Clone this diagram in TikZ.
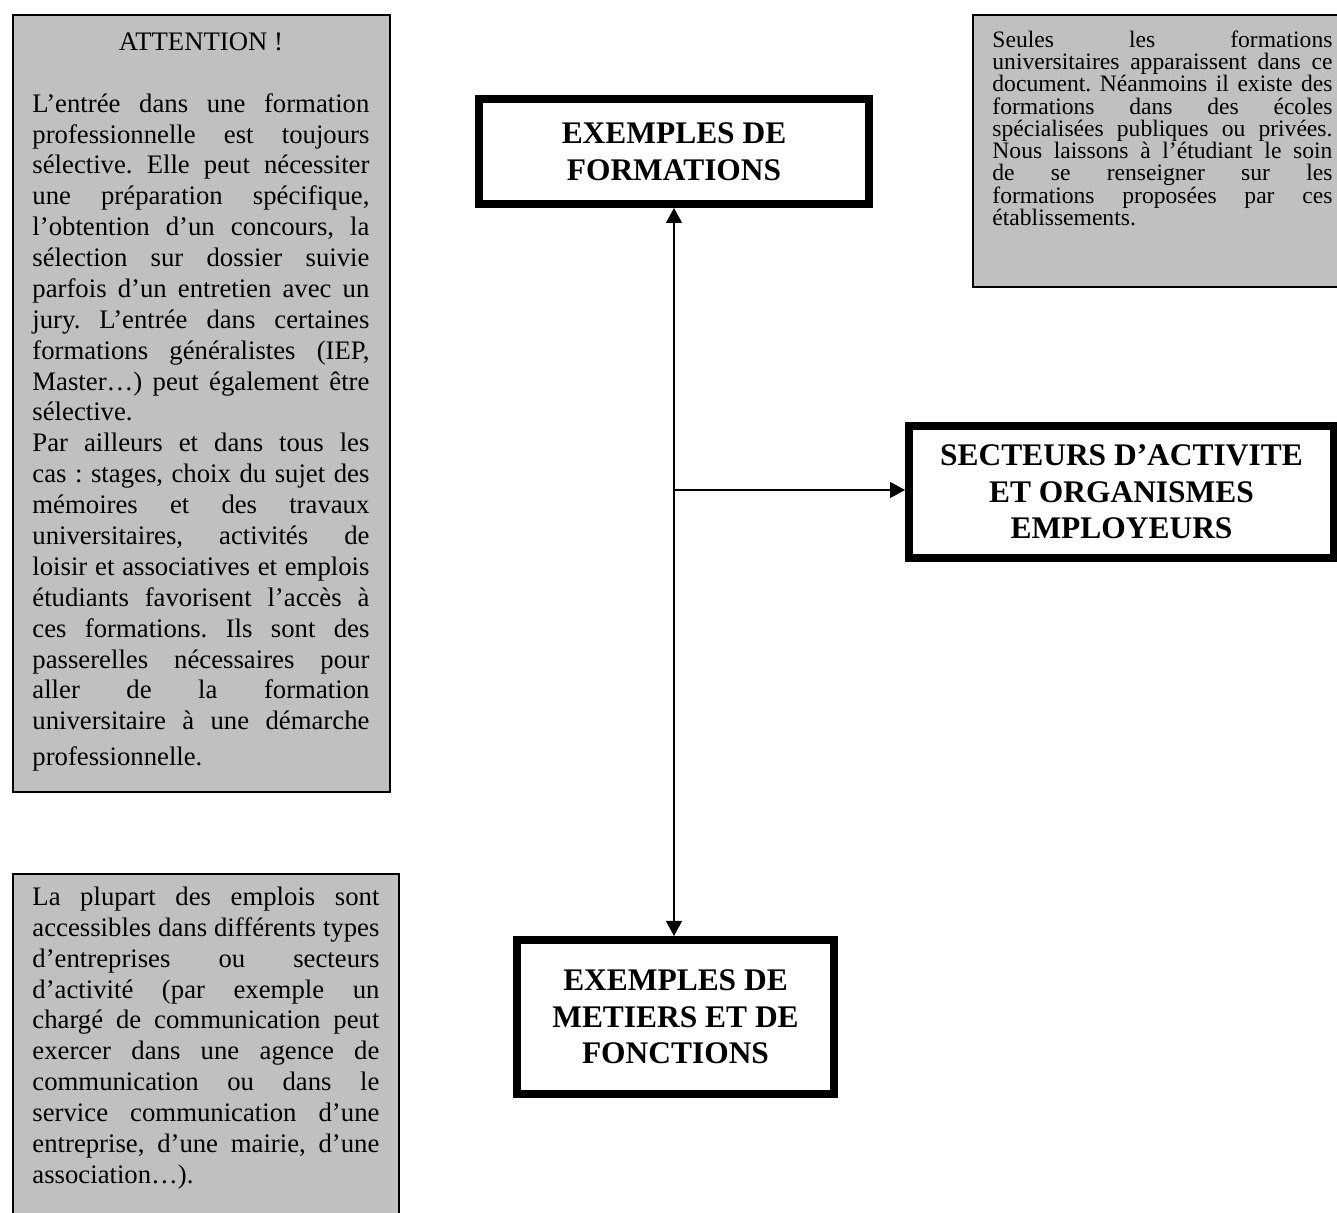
\documentclass[tikz,border=0pt]{standalone}
\usepackage{fontspec}
\setmainfont{Liberation Serif}
\usetikzlibrary{arrows.meta}
\definecolor{boxgray}{HTML}{C0C0C0}
\newcommand\jset{\parindent=0pt\tolerance=10000\pretolerance=-1\hyphenpenalty=10000\exhyphenpenalty=10000\emergencystretch=0pt\frenchspacing\spaceskip=0.25em plus 1em minus 0.12em\xspaceskip=\spaceskip}
\newcommand\tightset{\jset\lineskiplimit=-20pt}
\tikzset{
  graybox/.style={draw=black, fill=boxgray, line width=0.9pt, inner sep=0pt, anchor=north west},
  bodytext/.style={inner sep=0pt, anchor=north west, align=justify, font=\fontsize{11.9pt}{13.75pt}\selectfont},
  smalltext/.style={inner sep=0pt, anchor=north west, align=justify, font=\fontsize{10.5pt}{9.9pt}\selectfont},
  titlebox/.style={draw=black, fill=white, line width=3.5pt, inner sep=0pt, align=center,
    font=\fontsize{14pt}{16.3pt}\selectfont\bfseries},
  tipA/.tip={Triangle[length=6.7pt,width=7pt]},
  link/.style={line width=0.9pt, tipA-tipA},
  onelink/.style={line width=0.9pt, -tipA}
}
\begin{document}
\begin{tikzpicture}[x=0.44525pt, y=-0.44525pt]
\clip (0,0) rectangle (1337,1213);
\fill[white] (0,0) rectangle (1337,1213);

% gray boxes
\node[graybox, minimum width=167.9pt, minimum height=346.0pt] (attbox) at (12,14) {};
\node[graybox, minimum width=165.2pt, minimum height=121.1pt] (trbox) at (972,14) {};
\node[graybox, minimum width=171.9pt, minimum height=158.1pt] (blbox) at (12,873) {};

\node[bodytext, text width=150.05pt] (attT) at (32,27.5) {\jset
{\centering\rule{0pt}{10pt}ATTENTION !\par}
\mbox{}\par
L’entrée dans une formation\linebreak
professionnelle est toujours\linebreak
sélective. Elle peut nécessiter\linebreak
une préparation spécifique,\linebreak
l’obtention d’un concours, la\linebreak
sélection sur dossier suivie\linebreak
parfois d’un entretien avec un\linebreak
jury. L’entrée dans certaines\linebreak
formations généralistes (IEP,\linebreak
Master…) peut également être\linebreak
sélective.\par
Par ailleurs et dans tous les\linebreak
cas~: stages, choix du sujet des\linebreak
mémoires et des travaux\linebreak
universitaires, activités de\linebreak
loisir et associatives et emplois\linebreak
étudiants favorisent l’accès à\linebreak
ces formations. Ils sont des\linebreak
passerelles nécessaires pour\linebreak
aller de la formation\linebreak
universitaire à une démarche\linebreak
\rule{0pt}{14.6pt}professionnelle.\par};

\node[smalltext, text width=151.4pt] (trT) at (992,29) {\tightset
\rule{0pt}{8pt}Seules les formations\linebreak
universitaires apparaissent dans ce\linebreak
document. Néanmoins il existe des\linebreak
formations dans des écoles\linebreak
spécialisées publiques ou privées.\linebreak
Nous laissons à l’étudiant le soin\linebreak
de se renseigner sur les\linebreak
formations proposées par ces\linebreak
établissements.\par};

\node[bodytext, text width=154.5pt] (blT) at (32,882.5) {\jset
\rule{0pt}{10pt}La plupart des emplois sont\linebreak
accessibles dans différents types\linebreak
d’entreprises ou secteurs\linebreak
d’activité (par exemple un\linebreak
chargé de communication peut\linebreak
exercer dans une agence de\linebreak
communication ou dans le\linebreak
service communication d’une\linebreak
entreprise, d’une mairie, d’une\linebreak
association…).\par};

% title boxes
\node[titlebox, minimum width=173.6pt, minimum height=46.75pt] (forma) at (674,151.5) {EXEMPLES DE\\FORMATIONS};
\node[titlebox, minimum width=189.2pt, minimum height=58.8pt] (sect) at (1121.5,492) {SECTEURS D’ACTIVITE\\ET ORGANISMES\\EMPLOYEURS};
\node[titlebox, minimum width=141.1pt, minimum height=68.6pt] (met) at (675.5,1017) {EXEMPLES DE\\METIERS ET DE\\FONCTIONS};

% connectors
\draw[link] (forma.south) -- (forma.south |- met.north);
\coordinate (j) at (674,490);
\draw[onelink] (j) -- (j -| sect.west);
\end{tikzpicture}
\end{document}
